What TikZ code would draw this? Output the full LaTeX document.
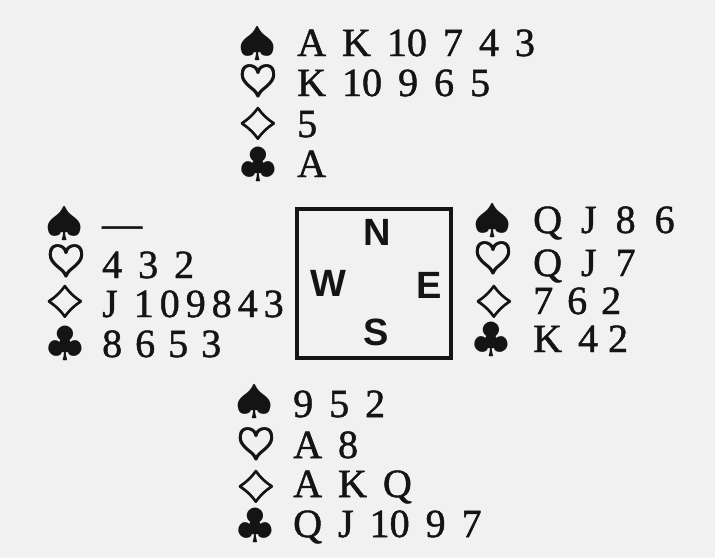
\documentclass[tikz,border=0pt]{standalone}
\usepackage{fontspec}
\usepackage{graphicx}
\setmainfont{Liberation Serif}[FakeBold=1.2]
\newfontfamily\boxfont{Liberation Sans}
\definecolor{bg}{RGB}{241,241,241}
\definecolor{ink}{RGB}{20,20,20}
\newcommand{\cardfont}{\fontsize{40}{40}\selectfont\spaceskip=16pt\relax}
\newcommand{\heavy}[1]{\makebox[0pt][l]{\raisebox{0.8pt}{#1}}\makebox[0pt][l]{\kern0.8pt#1}\makebox[0pt][l]{\kern0.8pt\raisebox{0.8pt}{#1}}#1}
\newcommand{\suitS}{\scalebox{4.9}[4.0]{$\spadesuit$}}
\newcommand{\suitH}{\heavy{\scalebox{5.0}[4.3]{$\heartsuit$}}}
\newcommand{\suitD}{\heavy{\scalebox{5.1}[3.6]{$\diamondsuit$}}}
\newcommand{\suitC}{\scalebox{4.6}[4.05]{$\clubsuit$}}
\newcommand{\dk}{\kern6pt}
\begin{document}
\begin{tikzpicture}[x=1pt,y=-1pt,
  hand/.style={anchor=base west, inner sep=0pt, text=ink, font=\cardfont},
  suit/.style={anchor=center, inner sep=0pt, text=ink},
  dir/.style={anchor=center, inner sep=0pt, text=ink, font=\boxfont\bfseries\fontsize{38}{38}\selectfont}]
\fill[bg] (0,0) rectangle (715,558);
\useasboundingbox (0,0) rectangle (715,558);
% North
\node[suit] (ns) at (258,44) {\suitS};
\node[suit] (nh) at (258,84) {\suitH};
\node[suit] (nd) at (258,124) {\suitD};
\node[suit] (nc) at (258,165) {\suitC};
\node[hand] (nS) at (297,56) {A K 10 7 4 3};
\node[hand] (nH) at (297,96) {K 10 9 6 5};
\node[hand] (nD) at (297,137) {5};
\node[hand] (nC) at (297,177) {A};
% West
\node[suit] (ws) at (65,224) {\suitS};
\node[suit] (wh) at (66,264) {\suitH};
\node[suit] (wd) at (65,302) {\suitD};
\node[suit] (wc) at (65,344) {\suitC};
\node[hand] (wS) at (102,237) {—};
\node[hand] (wH) at (102,278) {4 3 2};
\node[hand] (wD) at (102,317) {J 1\dk0\dk9\dk8\dk4\dk3};
\node[hand] (wC) at (102,357) {8\kern13pt6\kern13pt5\kern13pt3};
% East
\node[suit] (es) at (493,221) {\suitS};
\node[suit] (eh) at (493,261) {\suitH};
\node[suit] (ed) at (494,302) {\suitD};
\node[suit] (ec) at (491,340) {\suitC};
\node[hand] (eS) at (533,233) {Q\kern19pt J\kern19pt 8\kern19pt 6};
\node[hand] (eH) at (533,276) {Q\kern19pt J\kern19pt 7};
\node[hand] (eD) at (533,314) {7\kern14pt6\kern14pt2};
\node[hand] (eC) at (533,352) {K\kern16pt4\kern10pt2};
% South
\node[suit] (ss) at (255,402) {\suitS};
\node[suit] (sh) at (256,447) {\suitH};
\node[suit] (sd) at (256,487) {\suitD};
\node[suit] (sc) at (255,526) {\suitC};
\node[hand] (sS) at (293,417) {9 5 2};
\node[hand] (sH) at (293,458) {A 8};
\node[hand] (sD) at (293,497) {A K Q};
\node[hand] (sC) at (293,537) {Q J 10 9 7};
% Compass box
\draw[ink, line width=4pt] (297,209) rectangle (451,358);
\node[dir] (N) at (377,232) {N};
\node[dir] (W) at (328,283) {W};
\node[dir] (E) at (429,285) {E};
\node[dir] (S) at (376,332) {S};
\end{tikzpicture}
\end{document}
